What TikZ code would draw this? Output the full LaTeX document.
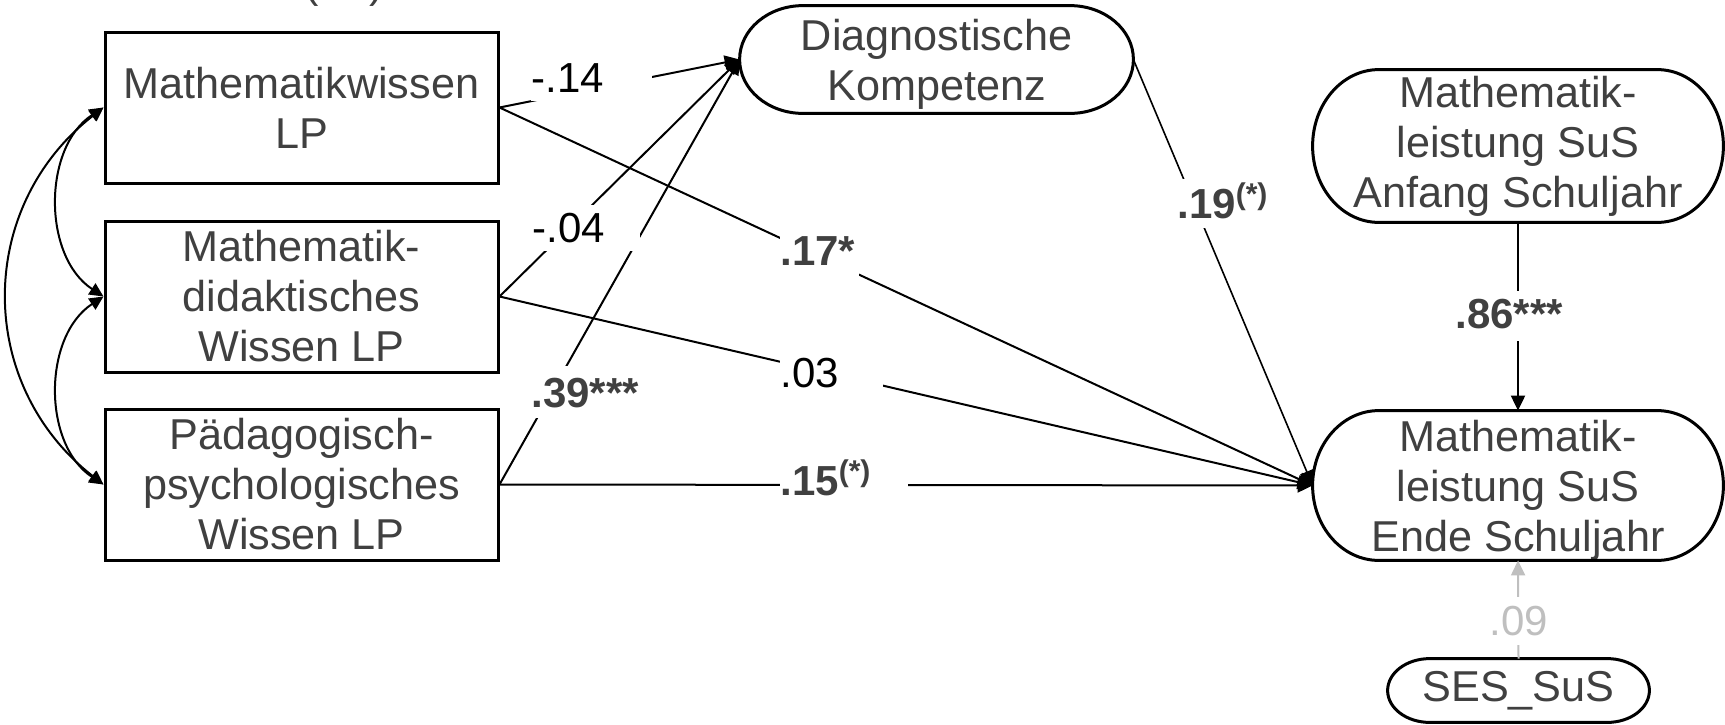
\documentclass[tikz,border=0pt]{standalone}
\usepackage{fontspec}
\setmainfont{Liberation Sans}
\usetikzlibrary{arrows.meta,calc}
\definecolor{txt}{HTML}{404040}
\definecolor{lgray}{HTML}{BFBFBF}
\newcommand\supst[1]{\raisebox{7pt}{\fontsize{15}{15}\selectfont #1}}
\newcommand\termshape[1]{%
\draw[line width=1.5pt] let \p1=(#1.north west), \p2=(#1.south east),
  \n1={0.161*(\x2-\x1)}, \n2={0.5*(\y1-\y2)}, \n3={0.4477*\n1}, \n4={0.4477*\n2} in
  (\x1+\n1,\y1) -- (\x2-\n1,\y1)
  .. controls (\x2-\n3,\y1) and (\x2,\y1-\n4) .. (\x2,\y1-\n2)
  .. controls (\x2,\y2+\n4) and (\x2-\n3,\y2) .. (\x2-\n1,\y2)
  -- (\x1+\n1,\y2)
  .. controls (\x1+\n3,\y2) and (\x1,\y2+\n4) .. (\x1,\y2+\n2)
  .. controls (\x1,\y1-\n4) and (\x1+\n3,\y1) .. (\x1+\n1,\y1) -- cycle;}
\begin{document}
\begin{tikzpicture}[x=0.5pt,y=-0.5pt,
  mainfont/.style={font=\fontsize{21}{25}\selectfont},
  nodefont/.style={font=\fontsize{21.6}{25}\selectfont},
  box/.style={draw, line width=1.5pt, minimum width=196.5pt, minimum height=75.5pt,
    inner sep=0pt, align=center, text=txt, nodefont},
  term/.style={inner sep=0pt, align=center, text=txt, nodefont},
  tip/.style={-{Triangle[length=7.5pt,width=7pt]}},
  conn/.style={line width=1pt, tip},
  cov/.style={line width=1pt, {Triangle[length=7pt,width=6.5pt]}-{Triangle[length=7pt,width=6.5pt]}},
  lbl/.style={fill=white, inner sep=0pt, anchor=base west, align=left, text=black, mainfont},
  lblb/.style={lbl, text=txt, font=\fontsize{21}{25}\selectfont\bfseries}
]
\useasboundingbox (0,0) rectangle (1725,724);

% clipped fragment at the top edge
\node[anchor=base west, inner sep=0pt, text=txt, nodefont] (frag) at (304,-3) {(\hspace{25.5pt})};

% left boxes
\node[box] (mw) at (301.5,107.5) {Mathematikwissen\\LP};
\node[box] (md) at (301.5,296.5) {Mathematik-\\didaktisches\\Wissen LP};
\node[box] (pp) at (301.5,484.5) {Pädagogisch-\\psychologisches\\Wissen LP};

% terminator nodes
\node[term, minimum width=196.5pt, minimum height=53.5pt, text depth=0pt] (dk) at (936.5,59.5) {Diagnostische\\Kompetenz};
\node[term, minimum width=205pt, minimum height=76pt] (an) at (1518,146) {Mathematik-\\leistung SuS\\Anfang Schuljahr};
\node[term, minimum width=205pt, minimum height=74.5pt, text depth=0pt] (en) at (1518,485.5) {Mathematik-\\leistung SuS\\Ende Schuljahr};
\node[term, minimum width=130.5pt, minimum height=31.5pt] (ses) at (1518.5,690.5) {SES\_SuS};
\termshape{dk}
\termshape{an}
\termshape{en}
\termshape{ses}

% covariances
\draw[cov] (mw.west) .. controls +(-128,100) and +(-128,-100) .. (pp.west);
\draw[cov] (mw.west) .. controls +(-61,40) and +(-61,-40) .. (md.west);
\draw[cov] (md.west) .. controls +(-61,40) and +(-61,-40) .. (pp.west);

% paths
\draw[conn] (mw.east) -- (dk.west);
\draw[conn] (md.east) -- (dk.west);
\draw[conn] (pp.east) -- (dk.west);
\draw[conn] (mw.east) -- (en.west);
\draw[conn] (md.east) -- (en.west);
\draw[conn] (pp.east) -- (en.west);
\draw[line width=0.8pt, tip] (dk.east) -- (en.west);
\draw[conn] (an.south) -- (en.north);
\draw[line width=1pt, lgray, -{Triangle[length=7.5pt,width=7pt]}] (ses.north) -- (en.south);

% labels
\node[lbl, text width=60.5pt, text height=16pt, text depth=4.5pt] (l14) at (531,92) {-.14};
\node[lbl, text width=54pt, text height=18.5pt, text depth=4.5pt] (l04) at (532,242) {-.04};
\node[lblb, text width=55pt, text height=20.5pt, text depth=5.5pt] (l39) at (531,407) {.39***};
\node[lblb, text width=39.5pt, text height=16pt, text depth=5.5pt] (l17) at (780,265) {.17*};
\node[lbl, text width=51.5pt, text height=16pt, text depth=2.5pt] (l03) at (780,387) {.03};
\node[lblb, text width=64pt, text height=17.5pt, text depth=2.5pt] (l15) at (780,495) {.15\supst{(*)}};
\node[lblb, text width=47.5pt, text height=19.5pt, text depth=5pt] (l19) at (1177,218) {.19\supst{(*)}};
\node[lblb, text width=54pt, text height=18.5pt, text depth=6.5pt] (l86) at (1455,328) {.86***};
\node[lbl, text=lgray, text width=29.5pt, text height=19pt, text depth=5pt] (l09) at (1489,635) {.09};
\end{tikzpicture}
\end{document}
